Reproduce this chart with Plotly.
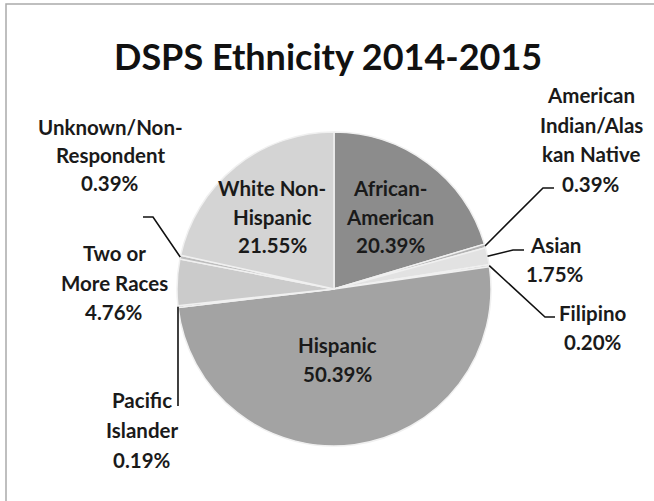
import math
import plotly.graph_objects as go

# Ethnicity shares, clockwise from 12 o'clock
categories = [
    "African-American",
    "American Indian/Alaskan Native",
    "Asian",
    "Filipino",
    "Hispanic",
    "Pacific Islander",
    "Two or More Races",
    "Unknown/Non-Respondent",
    "White Non-Hispanic",
]
shares = [20.39, 0.39, 1.75, 0.20, 50.39, 0.19, 4.76, 0.39, 21.55]
slice_colors = ["#8c8c8c", "#b4b4b4", "#e2e2e2", "#c4c4c4", "#a3a3a3",
                "#9c9c9c", "#cbcbcb", "#bdbdbd", "#d4d4d4"]

# label text, broken into lines, for each category
label_lines = {
    "African-American": ["African-", "American", "20.39%"],
    "American Indian/Alaskan Native": ["American", "Indian/Alas", "kan Native", "0.39%"],
    "Asian": ["Asian", "1.75%"],
    "Filipino": ["Filipino", "0.20%"],
    "Hispanic": ["Hispanic", "50.39%"],
    "Pacific Islander": ["Pacific", "Islander", "0.19%"],
    "Two or More Races": ["Two or", "More Races", "4.76%"],
    "Unknown/Non-Respondent": ["Unknown/Non-", "Respondent", "0.39%"],
    "White Non-Hispanic": ["White Non-", "Hispanic", "21.55%"],
}

W, H = 654, 501
FONT = "Lato"

# pie placement (pixels)
pie_left, pie_right, pie_top, pie_bottom = 177, 491, 132, 446
cx = (pie_left + pie_right) / 2
cy = (pie_top + pie_bottom) / 2
radius = (pie_bottom - pie_top) / 2


def px(x):
    return x / W


def py(y):
    return 1 - y / H


fig = go.Figure(go.Pie(
    labels=categories,
    values=shares,
    sort=False,
    direction="clockwise",
    rotation=0,
    textinfo="none",
    hoverinfo="label+percent",
    marker=dict(colors=slice_colors, line=dict(color="#f0f0f0", width=1.5)),
    domain=dict(x=[px(pie_left), px(pie_right)], y=[py(pie_bottom), py(pie_top)]),
    showlegend=False,
))

# label block layout: centre x, first line y, line pitch (pixels)
label_layout = {
    "White Non-Hispanic": (272, 188, 28.5),
    "African-American": (390, 188, 28.5),
    "Hispanic": (337, 345, 28.5),
    "Unknown/Non-Respondent": (110, 127, 28),
    "Two or More Races": (114, 253, 29.5),
    "Pacific Islander": (142, 400, 30),
    "American Indian/Alaskan Native": (591, 95, 29.5),
    "Asian": (555, 245, 28.5),
    "Filipino": (593, 313, 29),
}

annotations = []
for cat, (x0, y0, pitch) in label_layout.items():
    for i, line in enumerate(label_lines[cat]):
        annotations.append(dict(
            x=px(x0), y=py(y0 + i * pitch), xref="paper", yref="paper",
            text=f"<b>{line}</b>", showarrow=False,
            xanchor="center", yanchor="middle",
            font=dict(family=FONT, size=20.5, color="#1a1a1a"),
        ))

annotations.append(dict(
    x=px(328), y=py(56), xref="paper", yref="paper",
    text="<b>DSPS Ethnicity 2014-2015</b>", showarrow=False,
    xanchor="center", yanchor="middle",
    font=dict(family=FONT, size=36, color="#111111"),
))

# leader lines: start at slice mid-angle on the rim, then elbow to the label
total = sum(shares)
mid_angle = {}
acc = 0.0
for cat, v in zip(categories, shares):
    mid_angle[cat] = (acc + v / 2) / total * 2 * math.pi
    acc += v

leader_points = {
    "American Indian/Alaskan Native": [(543, 188), (554, 188)],
    "Asian": [(513, 250), (524, 250)],
    "Filipino": [(545, 317), (555, 317)],
    "Unknown/Non-Respondent": [(153, 217), (143, 217)],
    "Pacific Islander": [(178, 406)],
}

shapes = []
for cat, pts in leader_points.items():
    a = mid_angle[cat]
    sx = cx + radius * math.sin(a)
    sy = cy - radius * math.cos(a)
    path = f"M {px(sx)} {py(sy)}"
    for (x, y) in pts:
        path += f" L {px(x)} {py(y)}"
    shapes.append(dict(type="path", path=path, xref="paper", yref="paper",
                       line=dict(color="#111111", width=1.6)))

# chart frame
shapes.append(dict(type="rect", xref="paper", yref="paper",
                   x0=px(6), x1=px(660), y0=py(508), y1=py(4),
                   line=dict(color="#ababab", width=1.5)))

fig.update_layout(
    width=W, height=H,
    margin=dict(l=0, r=0, t=0, b=0),
    paper_bgcolor="white",
    plot_bgcolor="white",
    annotations=annotations,
    shapes=shapes,
)

fig.write_html("out.html")
